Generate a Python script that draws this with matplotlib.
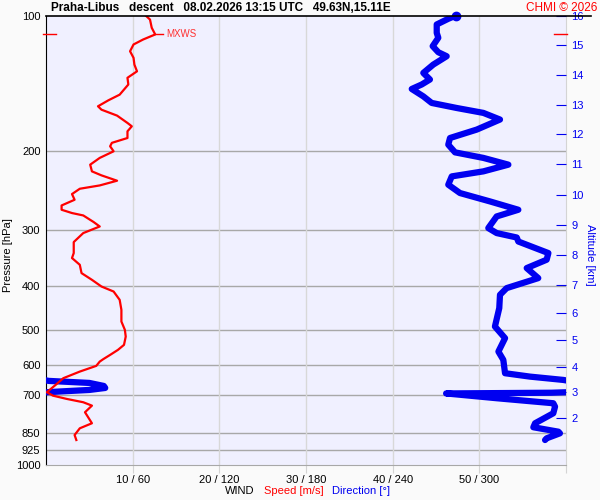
import numpy as np
import matplotlib
matplotlib.use("Agg")
import matplotlib.pyplot as plt
from matplotlib.lines import Line2D

plt.rcParams['font.family'] = ['Liberation Sans', 'DejaVu Sans']

# --- wind speed profile (pressure hPa, speed m/s) ---
spd_p = [100.0, 102.1, 106.5, 110.2, 113.1, 116.0, 120.1, 124.2, 128.6, 133.1,
         137.6, 142.4, 150.0, 154.4, 159.2, 162.0, 167.0, 173.4, 176.4, 181.0,
         187.3, 192.0, 195.4, 200.5, 207.4, 214.7, 222.2, 226.8, 233.1, 238.8,
         242.9, 249.6, 257.0, 264.6, 270.5, 275.1, 278.5, 288.1, 294.7, 304.8,
         319.2, 323.6, 337.7, 346.4, 358.6, 374.2, 387.3, 400.8, 411.2, 429.1,
         451.6, 479.5, 500.4, 518.0, 540.4, 554.5, 568.9, 581.6, 588.8, 601.8,
         619.7, 641.0, 661.2, 688.8, 701.0, 712.9, 725.1, 737.8, 763.2, 807.5,
         828.6, 857.6, 879.9]
spd_v = [11.5, 12.0, 12.2, 12.6, 11.2, 10.1, 9.7, 10.1, 10.2, 10.5,
         9.4, 9.5, 8.5, 7.2, 6.0, 6.4, 8.2, 9.4, 9.9, 9.4,
         9.4, 7.6, 7.4, 7.8, 6.2, 5.1, 5.3, 6.4, 8.2, 6.2,
         3.9, 3.0, 3.3, 1.8, 1.8, 3.0, 4.3, 5.5, 6.2, 4.3,
         3.2, 3.2, 3.2, 3.0, 3.9, 4.1, 5.3, 6.4, 7.8, 8.5,
         8.7, 8.7, 9.1, 9.2, 9.0, 8.3, 7.4, 6.6, 6.2, 5.8,
         3.9, 2.0, 1.2, 0.1, 0.8, 2.4, 4.3, 5.3, 4.5, 5.3,
         3.9, 3.3, 3.5]

# --- wind direction profile (pressure hPa, direction deg) ---
dir_p = [100.0, 101.7, 104.7, 109.3, 112.1, 117.0, 120.7, 123.2, 128.6, 134.2,
         138.8, 142.4, 145.7, 151.3, 156.5, 160.6, 164.7, 170.4, 179.4, 187.3,
         193.8, 201.6, 207.4, 214.7, 222.2, 228.0, 237.9, 248.3, 259.2, 270.5,
         279.9, 297.1, 304.8, 311.8, 318.3, 337.7, 349.4, 364.7, 383.9, 404.1,
         418.2, 447.7, 492.0, 522.2, 559.3, 583.6, 624.9, 635.9, 646.8, 650.0,
         656.8, 667.0, 673.9, 680.8, 686.1, 688.8, 690.6, 693.1, 710.3, 728.8,
         741.6, 767.2, 807.5, 824.2, 843.1, 850.1, 872.2, 879.9]
dir_v = [284, 278.5, 270.5, 270.5, 271.6, 267.7, 271.6, 277.4, 268.1, 261.2,
         265.8, 260.1, 253.2, 261.2, 267.0, 284.3, 302.8, 314.3, 298.2, 279.7,
         278.5, 283.2, 302.8, 320.1, 302.8, 280.9, 278.5, 286.6, 307.4, 327.0,
         312.0, 306.2, 312.0, 325.9, 327.0, 347.8, 346.6, 332.8, 340.8, 318.9,
         314.3, 313.8, 310.8, 317.8, 313.2, 316.6, 317.8, 335.1, 358.2, 2,
         30, 40, 41, 30, 10, 1, 350, 277, 312, 351.2,
         352.4, 351.2, 338.6, 337.4, 354.7, 355.8, 346.6, 345.5]

# max wind speed level
mxws_p = 110.2
mxws_v = 12.6

# axes ticks
p_ticks = [100, 200, 300, 400, 500, 600, 700, 850, 925, 1000]
x_ticks = [10, 20, 30, 40, 50, 60]
x_labels = ["10 / 60", "20 / 120", "30 / 180", "40 / 240", "50 / 300", ""]
alt_km = [16, 15, 14, 13, 12, 11, 10, 9, 8, 7, 6, 5, 4, 3, 2]
alt_p = [100.0, 116.4, 135.6, 158.0, 183.4, 213.9, 250.4, 292.5, 340.7,
         397.9, 459.4, 526.9, 604.9, 688.8, 787.0]

fig = plt.figure(figsize=(6, 5), dpi=100, facecolor='#fafafa')
ax = fig.add_axes([46/600, 1-465/500, 520/600, 449.5/500])
ax.set_facecolor('#f0f0ff')

ax.set_yscale('log')
ax.set_ylim(1000, 100)
ax.set_xlim(0, 60)

ax.set_yticks(p_ticks)
ax.set_yticklabels([str(p) for p in p_ticks])
ax.yaxis.set_minor_locator(matplotlib.ticker.NullLocator())
ax.tick_params(axis='y', length=0, pad=4, labelsize=8)
ax.set_xticks(x_ticks)
ax.set_xticklabels(x_labels)
ax.tick_params(axis='x', length=6, color='#d4d4d4', pad=1, labelsize=8)

for p in p_ticks[1:-1]:
    ax.axhline(p, color='#a8a8a8', lw=1, zorder=1)
for x in x_ticks[:-1]:
    ax.axvline(x, color='#d8d8d8', lw=1, zorder=1)

ax.spines['top'].set_visible(False)
ax.spines['bottom'].set_color('#a8a8a8')
ax.spines['right'].set_color('#d4d4d4')
ax.spines['left'].set_color('black')

# direction, scaled 0..360 -> 0..60, drawn with wrap-around
d = np.unwrap(np.array(dir_v, dtype=float), period=360)
for shift in (-360, 0, 360):
    ax.plot((d + shift) / 6.0, dir_p, color='#0000f0', lw=4.5,
            solid_capstyle='round', solid_joinstyle='round', zorder=3)
ax.plot([dir_v[0] / 6.0], [dir_p[0]], 'o', color='#0000f0', ms=6, clip_on=False, zorder=3)

# speed
ax.plot(spd_v, spd_p, color='#ff0000', lw=1.6, zorder=4)

# MXWS marker
ax.plot([mxws_v, mxws_v + 0.9], [mxws_p, mxws_p], color='#ff0000', lw=1, zorder=4)
ax.text(mxws_v + 1.3, mxws_p, "MXWS", color='#ff3030', fontsize=7, va='center', ha='left')
ax.plot([-0.35, 1.15], [mxws_p, mxws_p], color='#ff0000', lw=1, clip_on=False, zorder=5)
ax.plot([58.6, 60.1], [mxws_p, mxws_p], color='#ff0000', lw=1, clip_on=False, zorder=5)

# altitude axis
ax2 = ax.twinx()
ax2.set_yscale('log')
ax2.set_ylim(1000, 100)
ax2.set_yticks(alt_p)
ax2.set_yticklabels([str(a) for a in alt_km])
ax2.yaxis.set_minor_locator(matplotlib.ticker.NullLocator())
ax2.tick_params(axis='y', direction='in', length=7, color='#0000f0', labelcolor='#0000f0',
                pad=4, labelsize=8)
for s in ax2.spines.values():
    s.set_visible(False)

# top line
fig.add_artist(Line2D([46/600, 591/600], [1-15.5/500, 1-15.5/500], color='black', lw=1.2))

fig.text(51/600, 1-8/500, "Praha-Libus   descent   08.02.2026 13:15 UTC   49.63N,15.11E",
         fontsize=8.5, fontweight='bold', ha='left', va='center')
fig.text(597/600, 1-8/500, "CHMI \u00a9 2026", fontsize=8.5, color='#ff0000', ha='right', va='center')
fig.text(8/600, 0.49, "Pressure [hPa]", rotation=90, fontsize=8, ha='center', va='center')
fig.text(590/600, 0.49, "Altitude [km]", rotation=270, fontsize=8, color='#0000f0',
         ha='center', va='center')
fig.text(225/600, 1-491/500, "WIND", fontsize=8, ha='left', va='center')
fig.text(264/600, 1-491/500, "Speed [m/s]", fontsize=8, color='#ff0000', ha='left', va='center')
fig.text(332/600, 1-491/500, "Direction [\u00b0]", fontsize=8, color='#0000f0', ha='left', va='center')

fig.savefig("out.png", dpi=100, facecolor=fig.get_facecolor())
